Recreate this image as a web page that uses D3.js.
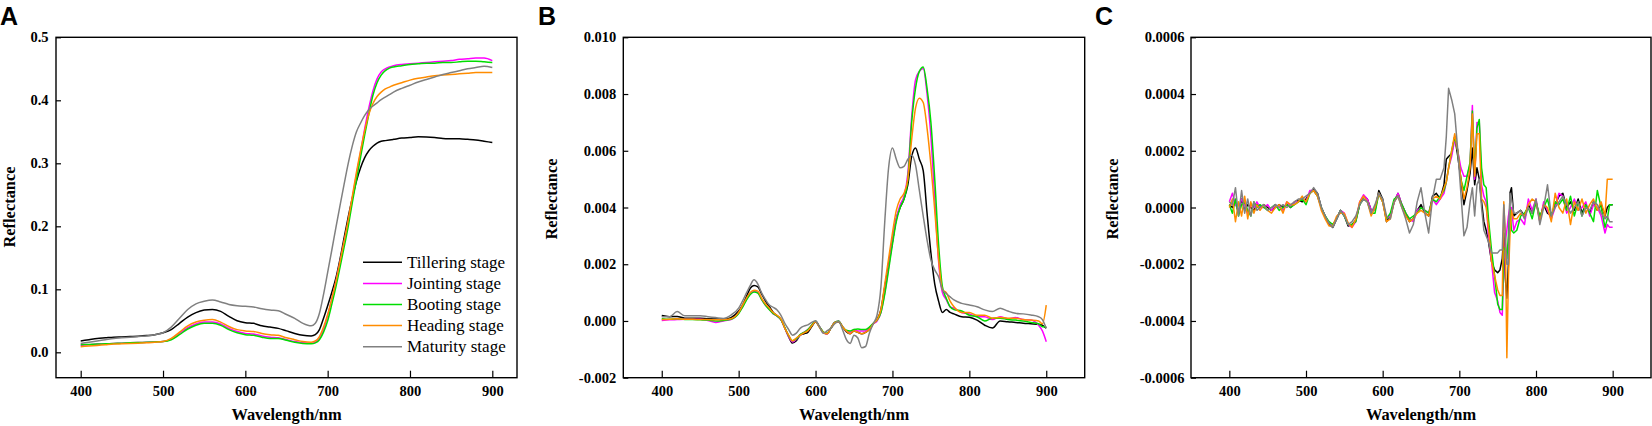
<!DOCTYPE html>
<html><head><meta charset="utf-8">
<script src="https://cdn.jsdelivr.net/npm/d3@7"></script>
<style>
html,body{margin:0;padding:0;background:#fff;}
svg{display:block;}
</style></head>
<body>
<svg id="chart" width="1652" height="426"></svg>
<script>
// ---------------- data ----------------
const stageNames = ["Tillering stage","Jointing stage","Booting stage","Heading stage","Maturity stage"];
const stageColors = ["#000000","#ff00ff","#00dd00","#ff8c00","#808080"];

const xTicks = [400,500,600,700,800,900];
const xTickLabels = ["400","500","600","700","800","900"];
const yTicksA = [0,0.1,0.2,0.3,0.4,0.5];
const yTickLabelsA = ["0.0","0.1","0.2","0.3","0.4","0.5"];
const yTicksB = [-0.002,0,0.002,0.004,0.006,0.008,0.010];
const yTickLabelsB = ["-0.002","0.000","0.002","0.004","0.006","0.008","0.010"];
const yTicksC = [-0.0006,-0.0004,-0.0002,0,0.0002,0.0004,0.0006];
const yTickLabelsC = ["-0.0006","-0.0004","-0.0002","0.0000","0.0002","0.0004","0.0006"];

// Panel A: original reflectance
const wavelengthA = [400,410,420,430,440,450,460,470,480,490,500,510,520,530,540,550,560,570,580,590,600,610,620,630,640,650,660,670,680,
  685,690,695,700,705,710,715,720,725,730,735,740,745,750,755,760,765,770,775,780,
  790,800,810,820,830,840,850,860,870,880,890,900];
const reflTillering = [0.018,0.020,0.022,0.023,0.024,0.0245,0.025,0.0255,0.0265,0.028,0.031,0.036,0.046,0.056,0.063,0.067,0.068,0.065,0.057,0.050,0.047,0.046,0.042,0.040,0.038,0.034,0.030,0.027,0.026,
  0.028,0.036,0.054,0.074,0.095,0.118,0.148,0.182,0.215,0.245,0.272,0.293,0.309,0.320,0.327,0.332,0.335,0.336,0.337,0.338,
  0.340,0.341,0.342,0.3418,0.341,0.3395,0.339,0.3388,0.338,0.337,0.335,0.333];
const reflJointing = [0.011,0.012,0.013,0.0135,0.014,0.0145,0.015,0.0155,0.016,0.0165,0.017,0.021,0.030,0.039,0.045,0.048,0.048,0.045,0.038,0.033,0.030,0.029,0.026,0.024,0.023,0.020,0.017,0.015,0.0145,
  0.016,0.022,0.036,0.058,0.084,0.112,0.143,0.175,0.207,0.245,0.282,0.318,0.355,0.388,0.415,0.434,0.445,0.450,0.453,0.455,
  0.457,0.458,0.459,0.460,0.461,0.462,0.463,0.465,0.466,0.467,0.467,0.463];
const reflBooting = [0.012,0.0125,0.013,0.0135,0.014,0.0145,0.015,0.0155,0.016,0.0165,0.017,0.020,0.028,0.037,0.043,0.046,0.046,0.043,0.036,0.031,0.028,0.027,0.024,0.022,0.022,0.019,0.016,0.014,0.0135,
  0.015,0.020,0.032,0.050,0.076,0.104,0.135,0.167,0.200,0.238,0.274,0.310,0.345,0.378,0.408,0.428,0.440,0.447,0.451,0.453,
  0.455,0.457,0.458,0.459,0.459,0.460,0.460,0.461,0.462,0.462,0.461,0.460];
const reflHeading = [0.009,0.010,0.011,0.012,0.013,0.0135,0.014,0.0145,0.015,0.016,0.017,0.022,0.032,0.042,0.048,0.051,0.052,0.048,0.041,0.036,0.034,0.033,0.030,0.028,0.027,0.023,0.020,0.017,0.016,
  0.018,0.025,0.040,0.060,0.085,0.112,0.144,0.176,0.210,0.248,0.286,0.320,0.352,0.378,0.395,0.406,0.413,0.418,0.421,0.424,
  0.428,0.432,0.435,0.437,0.439,0.440,0.441,0.442,0.443,0.444,0.444,0.444];
const reflMaturity = [0.014,0.016,0.018,0.020,0.022,0.023,0.024,0.025,0.026,0.028,0.031,0.040,0.054,0.068,0.077,0.081,0.083,0.080,0.076,0.074,0.073,0.072,0.069,0.067,0.066,0.060,0.054,0.046,0.042,
  0.046,0.062,0.092,0.127,0.162,0.198,0.233,0.267,0.300,0.328,0.350,0.364,0.376,0.385,0.391,0.396,0.401,0.405,0.409,0.413,
  0.419,0.424,0.429,0.433,0.437,0.441,0.444,0.447,0.450,0.452,0.454,0.452];

// Panel B: first derivative
const wavelengthB = [400,410,420,430,440,450,460,470,480,490,
  500,505,510,515,520,525,530,535,540,545,
  550,555,560,565,570,575,580,585,590,595,
  600,605,610,615,620,625,630,635,640,645,
  650,655,660,665,670,675,680,685,690,695,
  700,705,710,715,720,725,730,735,740,745,
  750,755,760,765,770,775,780,
  790,800,810,820,830,840,850,860,870,880,890,
  895,900];
const d1Tillering = [1.9e-4,1.5e-4,1.6e-4,1.0e-4,1.0e-4,1.0e-4,0.8e-4,0.7e-4,0.6e-4,1.2e-4,
  3.5e-4,5.5e-4,8.5e-4,11.5e-4,12.5e-4,12e-4,9.5e-4,7e-4,5e-4,3e-4,
  1.8e-4,0.5e-4,-2.5e-4,-5.5e-4,-7.8e-4,-7e-4,-5e-4,-4.5e-4,-4e-4,-2e-4,
  -0.3e-4,-2e-4,-4e-4,-4.5e-4,-2.5e-4,-0.5e-4,-0.3e-4,-2e-4,-3.8e-4,-4.5e-4,
  -3.5e-4,-4e-4,-4.5e-4,-4e-4,-3e-4,-1e-4,0.5e-4,4e-4,12e-4,20e-4,
  28e-4,36e-4,40e-4,43e-4,48e-4,58e-4,61e-4,57e-4,53e-4,38e-4,
  24e-4,13e-4,7e-4,3e-4,4e-4,3e-4,2.5e-4,
  1.5e-4,1.3e-4,0.3e-4,-1.5e-4,-2.5e-4,0,-0.3e-4,-0.5e-4,-0.8e-4,-1e-4,-1.2e-4,
  -1.5e-4,-2.6e-4];
const d1Jointing = [0.2e-4,0.4e-4,0.5e-4,0.6e-4,0.6e-4,0.6e-4,0.2e-4,-0.5e-4,0,0.5e-4,
  2.8e-4,5e-4,7.5e-4,9.5e-4,10.5e-4,10e-4,7.5e-4,5.5e-4,4e-4,2.5e-4,
  1.8e-4,0.5e-4,-2.5e-4,-5.5e-4,-7.4e-4,-6.5e-4,-5e-4,-4e-4,-3e-4,-1.5e-4,
  0,-2e-4,-4e-4,-4.5e-4,-2.5e-4,-0.5e-4,0,-2e-4,-3.5e-4,-4e-4,
  -3e-4,-3.5e-4,-3.5e-4,-3.5e-4,-2.5e-4,-1e-4,0,3e-4,10e-4,19e-4,
  28e-4,36e-4,41e-4,44e-4,52e-4,72e-4,85e-4,88e-4,89e-4,80e-4,
  65e-4,43e-4,21e-4,10e-4,7.5e-4,5e-4,4.5e-4,
  3e-4,2.5e-4,1.5e-4,1.5e-4,0.5e-4,1.5e-4,0.8e-4,1.2e-4,0.5e-4,0.3e-4,-1.5e-4,
  -3.5e-4,-7.3e-4];
const d1Booting = [0.8e-4,0.6e-4,0.8e-4,0.5e-4,0.5e-4,0.4e-4,0.3e-4,0,0.2e-4,0.6e-4,
  2.6e-4,4.8e-4,7.3e-4,9.3e-4,10.2e-4,9.8e-4,7.5e-4,5.5e-4,4e-4,2.6e-4,
  1.8e-4,0.5e-4,-2.3e-4,-5.2e-4,-7e-4,-6.3e-4,-4.8e-4,-4e-4,-3e-4,-1.5e-4,
  0,-2e-4,-3.8e-4,-4.3e-4,-2.5e-4,-0.5e-4,0,-2e-4,-3.3e-4,-3.5e-4,
  -3e-4,-2.8e-4,-3e-4,-3e-4,-2.2e-4,-0.8e-4,0.3e-4,3e-4,9.5e-4,18e-4,
  27e-4,35e-4,40e-4,43e-4,50e-4,70e-4,82e-4,88e-4,89.5e-4,82e-4,
  70e-4,50e-4,27e-4,12e-4,8e-4,5e-4,4e-4,
  3.5e-4,2e-4,1.5e-4,0,1e-4,1e-4,0.5e-4,0.3e-4,0,-0.5e-4,-1e-4,
  -2e-4,-2e-4];
const d1Heading = [0.5e-4,0.6e-4,0.8e-4,0.6e-4,0.6e-4,0.5e-4,0.5e-4,0.4e-4,0.5e-4,0.8e-4,
  3e-4,5.5e-4,8e-4,10e-4,10.8e-4,10.5e-4,8e-4,6e-4,4.5e-4,3e-4,
  2e-4,0.7e-4,-2.5e-4,-5e-4,-7e-4,-6e-4,-5e-4,-4.2e-4,-3.5e-4,-1.8e-4,
  -0.3e-4,-2.2e-4,-4e-4,-4.5e-4,-2.5e-4,-0.6e-4,-0.3e-4,-2e-4,-3.5e-4,-4.5e-4,
  -3.5e-4,-4e-4,-4.5e-4,-4e-4,-3e-4,-1e-4,0.5e-4,4e-4,13e-4,22e-4,
  31e-4,39e-4,43e-4,45e-4,50e-4,64e-4,75e-4,78.5e-4,77e-4,68e-4,
  55e-4,39e-4,22e-4,11e-4,10e-4,7e-4,5e-4,
  3e-4,3e-4,2e-4,2e-4,1e-4,1.2e-4,1e-4,1e-4,0.5e-4,0.3e-4,0,
  -1e-4,5.6e-4];
const d1Maturity = [1.5e-4,1.5e-4,3.3e-4,1.8e-4,1.8e-4,1.8e-4,1.5e-4,1.2e-4,0.9e-4,2.1e-4,
  4.5e-4,7e-4,9.8e-4,12.5e-4,14.5e-4,13e-4,9.8e-4,7.5e-4,5.6e-4,4.8e-4,
  3.9e-4,2e-4,-0.8e-4,-3e-4,-5e-4,-4.3e-4,-2.6e-4,-1.8e-4,-1.4e-4,-0.5e-4,
  0,-2e-4,-4.3e-4,-3.5e-4,-2.6e-4,-1e-4,-0.2e-4,-3e-4,-6.5e-4,-7.9e-4,
  -5e-4,-6e-4,-9.4e-4,-9e-4,-4.3e-4,-1e-4,2.1e-4,12e-4,35e-4,54e-4,
  61e-4,57e-4,54e-4,54.5e-4,57e-4,58.5e-4,55e-4,46e-4,37e-4,28.5e-4,
  21.5e-4,18e-4,15.6e-4,11e-4,9.7e-4,8.5e-4,7.4e-4,
  6.2e-4,5.6e-4,5e-4,3.9e-4,3.3e-4,4.5e-4,3.5e-4,2.7e-4,2.5e-4,2.1e-4,1.5e-4,
  0.5e-4,-2.6e-4];

// Panel C: second derivative
const wavelengthC = [400,404,408,412,416,420,424,428,432,436,440,
  445,450,455,460,465,470,475,480,485,490,
  495,500,505,510,515,520,525,530,535,540,
  545,550,555,560,565,570,575,580,585,590,
  595,600,605,610,615,620,625,630,635,640,
  645,650,655,660,665,670,675,
  680,683,686,690,694,698,702,706,710,714,
  717,720,723,726,729,732,735,738,742,746,
  750,753,756,758,760,762,764,766,768,771,
  775,780,785,790,795,800,805,810,815,820,
  825,830,835,840,845,850,855,860,865,870,
  875,880,885,890,893,896,900];
const d2Tillering = [1e-5,0,2e-5,-2e-5,3e-5,-1e-5,1e-5,0,-1e-5,1e-5,0,
  1e-5,0,-1e-5,0,1e-5,0,1e-5,0,2e-5,2.5e-5,
  2e-5,3e-5,5e-5,6.5e-5,5e-5,0,-3e-5,-6e-5,-7e-5,-4e-5,
  -1e-5,-3e-5,-6.5e-5,-6e-5,-4.5e-5,1e-5,4e-5,3e-5,-1e-5,-1e-5,
  6e-5,3e-5,-5e-5,-3e-5,2e-5,5e-5,1e-5,-2e-5,-5e-5,-4e-5,
  -1e-5,1e-5,-2e-5,-3e-5,4e-5,5e-5,3e-5,
  8e-5,17e-5,18e-5,19e-5,25e-5,18e-5,10e-5,1e-5,6e-5,12e-5,
  21e-5,8e-5,14e-5,10e-5,2e-5,-5e-5,-8e-5,-12e-5,-19e-5,-22e-5,
  -23e-5,-22e-5,-18e-5,-9e-5,-25e-5,-32e-5,-20e-5,5e-5,7e-5,-3e-5,
  -2e-5,-1e-5,-3e-5,1e-5,-2e-5,2e-5,-4e-5,1e-5,-2e-5,-3e-5,
  1e-5,4e-5,5e-5,0,2e-5,-1e-5,3e-5,-2e-5,1e-5,-2e-5,
  2e-5,-1e-5,1e-5,-3e-5,0,1e-5,1e-5];
const d2Jointing = [2e-5,5e-5,1e-5,-1e-5,3e-5,1e-5,-2e-5,1e-5,0,2e-5,0,
  0,1e-5,-1e-5,1e-5,0,-1e-5,2e-5,0,2e-5,2e-5,
  3e-5,2e-5,6e-5,6e-5,4e-5,0,-3e-5,-5.5e-5,-6e-5,-4e-5,
  -1e-5,-2e-5,-6e-5,-7e-5,-5e-5,2e-5,4.5e-5,3e-5,-1e-5,-1e-5,
  5e-5,2e-5,-4e-5,-3e-5,2e-5,5e-5,1e-5,-2e-5,-4e-5,-5e-5,
  -1e-5,0,-1e-5,-2e-5,3e-5,1e-5,3e-5,
  5e-5,9e-5,14e-5,18e-5,24e-5,20e-5,14e-5,11e-5,11e-5,15e-5,
  36e-5,10e-5,30e-5,30e-5,8e-5,4e-5,2e-5,-10e-5,-19e-5,-30e-5,
  -33e-5,-37e-5,-38e-5,-20e-5,-12e-5,-8e-5,-3e-5,0,0,-8e-5,
  -5e-5,-4e-5,-6e-5,3e-5,-1e-5,3e-5,-5e-5,2e-5,-1e-5,-4e-5,
  0,5e-5,4e-5,-2e-5,0,3e-5,-1e-5,0,2e-5,-3e-5,
  1e-5,0,-3e-5,-9e-5,-6e-5,-7e-5,-7e-5];
const d2Booting = [1e-5,-2e-5,3e-5,-3e-5,1e-5,2e-5,-1e-5,-3e-5,2e-5,0,1e-5,
  0,-1e-5,0,1e-5,-1e-5,0,1e-5,0,1e-5,2e-5,
  3e-5,1e-5,5e-5,6e-5,4e-5,0,-3e-5,-5e-5,-6e-5,-4e-5,
  -1e-5,-3e-5,-6e-5,-6e-5,-5e-5,1e-5,3e-5,2e-5,-2e-5,-2e-5,
  5e-5,2e-5,-4e-5,-2e-5,3e-5,4e-5,1e-5,-2e-5,-4e-5,-3e-5,
  -2e-5,0,-1e-5,-2e-5,3e-5,2e-5,4e-5,
  6e-5,9e-5,14e-5,20e-5,25e-5,20e-5,10e-5,6e-5,11e-5,16e-5,
  34e-5,12e-5,28e-5,31e-5,14e-5,8e-5,7e-5,-4e-5,-15e-5,-24e-5,
  -34e-5,-36e-5,-36e-5,-15e-5,-14e-5,-18e-5,-10e-5,0,-8e-5,-9e-5,
  -8e-5,-3e-5,-2e-5,0,-4e-5,2e-5,-3e-5,0,3e-5,-3e-5,
  2e-5,1e-5,3e-5,-1e-5,4e-5,-3e-5,2e-5,-3e-5,1e-5,-2e-5,
  -5e-5,6e-5,0,-7e-5,-4e-5,1e-5,1e-5];
const d2Heading = [0,3e-5,-5e-5,2e-5,-3e-5,4e-5,-4e-5,2e-5,-2e-5,1e-5,-1e-5,
  1e-5,-1e-5,-2e-5,0,1e-5,-2e-5,2e-5,1e-5,1e-5,2e-5,
  4e-5,2e-5,5e-5,6e-5,4e-5,-1e-5,-4e-5,-6.5e-5,-6.5e-5,-3e-5,
  -2e-5,-2e-5,-5.5e-5,-7e-5,-4e-5,2e-5,4e-5,2e-5,-3e-5,0,
  5e-5,2e-5,-5e-5,-4e-5,2e-5,4e-5,0,-3e-5,-5e-5,-4e-5,
  -2e-5,-1e-5,-2e-5,-3e-5,3e-5,4e-5,3e-5,
  7e-5,9e-5,14e-5,20e-5,26e-5,20e-5,10e-5,3e-5,7e-5,14e-5,
  33e-5,11e-5,26e-5,26e-5,3e-5,2e-5,0,-7e-5,-19e-5,-24e-5,
  -29e-5,-31e-5,-31e-5,2e-5,-10e-5,-53e-5,-25e-5,-10e-5,-1e-5,-4e-5,
  -4e-5,-2e-5,-3e-5,1e-5,3e-5,2e-5,-5e-5,1e-5,0,-5e-5,
  5e-5,0,-2e-5,3e-5,-6e-5,2e-5,-1e-5,3e-5,-2e-5,1e-5,
  3e-5,-1e-5,2e-5,-3e-5,10e-5,10e-5,10e-5];
const d2Maturity = [2e-5,1e-5,7e-5,-3e-5,6e-5,-2e-5,3e-5,-3e-5,2e-5,-1e-5,0,
  1e-5,-1e-5,0,1e-5,0,1e-5,0,1e-5,2e-5,3e-5,
  3e-5,4e-5,5e-5,7e-5,5e-5,0,-3e-5,-5.5e-5,-7e-5,-4e-5,
  -1e-5,-3e-5,-6e-5,-5e-5,-3e-5,1e-5,3e-5,2e-5,-2e-5,1e-5,
  5e-5,3e-5,-3e-5,-4e-5,2e-5,4e-5,0,-4e-5,-9e-5,-6e-5,
  2e-5,7e-5,-2e-5,-9e-5,3e-5,10e-5,10e-5,
  14e-5,25e-5,42e-5,38e-5,33e-5,20e-5,5e-5,-10e-5,-7e-5,2e-5,
  7e-5,-3e-5,8e-5,10e-5,0,-8e-5,-10e-5,-12e-5,-16e-5,-16e-5,
  -16e-5,-15e-5,-15e-5,1e-5,-10e-5,-20e-5,-20e-5,5e-5,3e-5,-2e-5,
  -2e-5,-1e-5,-4e-5,0,-2e-5,3e-5,-6e-5,0,8e-5,-3e-5,
  0,2e-5,4e-5,1e-5,-2e-5,0,2e-5,-3e-5,0,-1e-5,
  2e-5,1e-5,-2e-5,-4e-5,-3e-5,-5e-5,-5e-5];

// ---------------- drawing ----------------
const svg = d3.select("#chart");
const serif = "'Liberation Serif','Times New Roman',Times,serif";
const sans = "'Liberation Sans',Arial,Helvetica,sans-serif";
const plotTop = 37.3, plotBottom = 377.7;

const panels = [
  {letter:"A", letterX:0, left:56, right:517, xDomain:[370,930], yDomain:[-0.0403,0.5],
   yTicks:yTicksA, yLabels:yTickLabelsA, wl:wavelengthA,
   series:[reflTillering,reflJointing,reflBooting,reflHeading,reflMaturity],
   curve:d3.curveMonotoneX, titleX:14.5, titleY:207, legend:true, labelPad:7.5},
  {letter:"B", letterX:538, left:623.3, right:1084.7, xDomain:[350,950], yDomain:[-0.002,0.010],
   yTicks:yTicksB, yLabels:yTickLabelsB, wl:wavelengthB,
   series:[d1Tillering,d1Jointing,d1Booting,d1Heading,d1Maturity],
   curve:d3.curveMonotoneX, titleX:556.5, titleY:199, legend:false, labelPad:7},
  {letter:"C", letterX:1095, left:1191, right:1651, xDomain:[350,950], yDomain:[-0.0006,0.0006],
   yTicks:yTicksC, yLabels:yTickLabelsC, wl:wavelengthC,
   series:[d2Tillering,d2Jointing,d2Booting,d2Heading,d2Maturity],
   curve:d3.curveLinear, titleX:1118, titleY:199, legend:false, labelPad:6.5}
];

panels.forEach((p, pi) => {
  const g = svg.append("g");
  const x = d3.scaleLinear().domain(p.xDomain).range([p.left, p.right]);
  const y = d3.scaleLinear().domain(p.yDomain).range([plotBottom, plotTop]);

  const clipId = "clip" + pi;
  svg.append("clipPath").attr("id", clipId).append("rect")
    .attr("x", p.left).attr("y", plotTop).attr("width", p.right - p.left).attr("height", plotBottom - plotTop);

  const line = d3.line().x(d => x(d[0])).y(d => y(d[1])).curve(p.curve);
  const lines = g.append("g").attr("clip-path", `url(#${clipId})`);
  p.series.forEach((vals, i) => {
    const pts = vals.map((v, j) => [p.wl[j], v]).filter(d => d[0] !== undefined);
    lines.append("path").datum(pts)
      .attr("d", line).attr("fill", "none")
      .attr("stroke", stageColors[i]).attr("stroke-width", 1.5)
      .attr("stroke-linejoin", "round");
  });

  // axes
  const xAxis = d3.axisBottom(x).tickValues(xTicks).tickFormat((d, i) => xTickLabels[i])
    .tickSizeInner(-7).tickSizeOuter(0).tickPadding(8.5);
  const gx = g.append("g").attr("transform", `translate(0,${plotBottom})`).call(xAxis);
  const yAxis = d3.axisLeft(y).tickValues(p.yTicks).tickFormat((d, i) => p.yLabels[i])
    .tickSizeInner(-5).tickSizeOuter(0).tickPadding(p.labelPad);
  const gy = g.append("g").attr("transform", `translate(${p.left},0)`).call(yAxis);
  [gx, gy].forEach(ax => {
    ax.select(".domain").remove();
    ax.selectAll("line").attr("stroke", "#000").attr("stroke-width", 1.2);
    ax.selectAll("text").attr("font-family", serif).attr("font-weight", "bold")
      .attr("font-size", "14.5px").attr("fill", "#000");
  });

  // frame
  g.append("rect").attr("x", p.left).attr("y", plotTop)
    .attr("width", p.right - p.left).attr("height", plotBottom - plotTop)
    .attr("fill", "none").attr("stroke", "#000").attr("stroke-width", 1.4);

  // titles
  g.append("text").attr("x", (p.left + p.right) / 2).attr("y", 420)
    .attr("text-anchor", "middle").attr("font-family", serif).attr("font-weight", "bold")
    .attr("font-size", "16.4px").text("Wavelength/nm");
  g.append("text").attr("transform", `translate(${p.titleX},${p.titleY}) rotate(-90)`)
    .attr("text-anchor", "middle").attr("font-family", serif).attr("font-weight", "bold")
    .attr("font-size", "16.4px").text("Reflectance");
  g.append("text").attr("x", p.letterX).attr("y", 25)
    .attr("font-family", sans).attr("font-weight", "bold").attr("font-size", "25px").text(p.letter);

  if (p.legend) {
    const lg = g.append("g");
    stageNames.forEach((name, i) => {
      const yy = 262.3 + i * 21.1;
      lg.append("line").attr("x1", 363).attr("x2", 402).attr("y1", yy).attr("y2", yy)
        .attr("stroke", stageColors[i]).attr("stroke-width", 1.5);
      lg.append("text").attr("x", 407).attr("y", yy).attr("dy", "0.32em")
        .attr("font-family", serif).attr("font-size", "17px").text(name);
    });
  }
});
</script>
</body></html>
